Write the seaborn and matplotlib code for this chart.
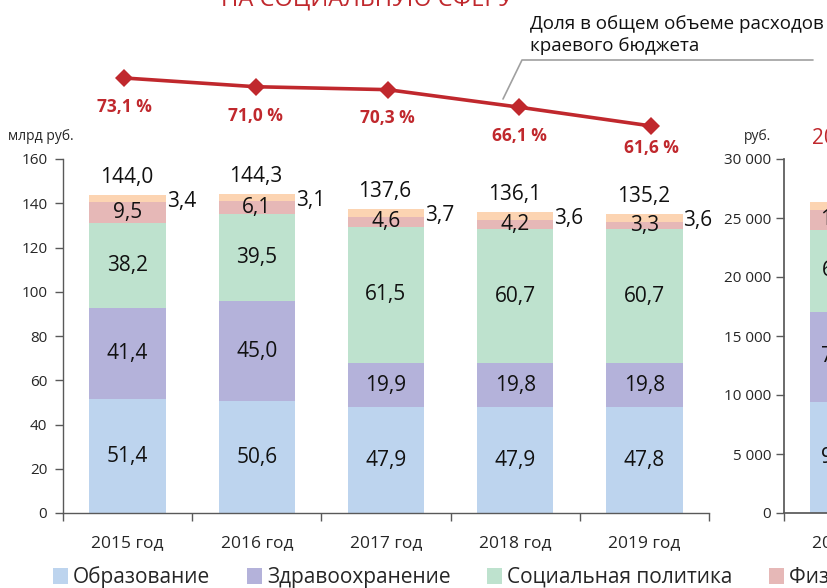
import numpy as np
import pandas as pd
import matplotlib
matplotlib.use("Agg")
import matplotlib.pyplot as plt
import seaborn as sns
from matplotlib.ticker import FixedLocator, FuncFormatter
from matplotlib.lines import Line2D
from matplotlib.patches import Patch

# ---------------- data ----------------
years = ["2015 год", "2016 год", "2017 год", "2018 год", "2019 год"]
edu = [51.4, 50.6, 47.9, 47.9, 47.8]
health = [41.4, 45.0, 19.9, 19.8, 19.8]
social = [38.2, 39.5, 61.5, 60.7, 60.7]
sport = [9.5, 6.1, 4.6, 4.2, 3.3]
culture = [3.4, 3.1, 3.7, 3.6, 3.6]
totals = [144.0, 144.3, 137.6, 136.1, 135.2]
share = [73.1, 71.0, 70.3, 66.1, 61.6]

pc_year = ["2019 год"]
pc_values = [9430, 7600, 6980, 1700, 650]   # per capita, rub.

legend_labels = ["Образование", "Здравоохранение", "Социальная политика",
                 "Физическая культура и спорт", "Культура"]
colors = ["#BDD4EE", "#B4B2DA", "#BEE2CE", "#E6B8B7", "#FCD4B2"]
RED = "#C0282D"
SPINE = "#595959"

sns.set_theme(style="ticks")
plt.rcParams["font.family"] = ["Open Sans", "DejaVu Sans"]

W, H = 828, 588
fig = plt.figure(figsize=(W / 100, H / 100), dpi=100)


def fx(p):
    return p / W


def fy(p):
    return 1 - p / H


def fmt(v):
    return f"{v:.1f}".replace(".", ",")


# ---------------- main stacked chart ----------------
ax = fig.add_axes([fx(63), fy(513), (709 - 63) / W, (513 - 159) / H])
layers = np.array([edu, health, social, sport, culture])
cum = np.cumsum(layers, axis=0)
for i in range(len(layers) - 1, -1, -1):
    sns.barplot(x=years, y=cum[i], order=years, color=colors[i], saturation=1,
                width=0.59, linewidth=0, errorbar=None, ax=ax)

for j in range(len(years)):
    for i in range(4):
        ax.text(j, cum[i][j] - layers[i][j] / 2, fmt(layers[i][j]),
                ha="center", va="center", fontsize=15, color="#111111")
    mid = cum[4][j] - layers[4][j] / 2
    ax.annotate(fmt(layers[4][j]), (j + 0.295, mid), xytext=(1, -3),
                textcoords="offset pixels", ha="left", va="center",
                fontsize=15, color="#111111")
    ax.annotate(fmt(totals[j]), (j, cum[4][j]), xytext=(-1, 17),
                textcoords="offset pixels", ha="center", va="center",
                fontsize=15, color="#111111")

ax.set_xlim(-0.5, len(years) - 0.5)
ax.set_ylim(0, 160)
ax.set_yticks(np.arange(0, 161, 20))
ax.set_xlabel("")
ax.set_ylabel("")
ax.set_xticks(range(len(years)))
ax.set_xticklabels(years)
ax.xaxis.set_minor_locator(FixedLocator(np.arange(-0.5, len(years), 1)))
ax.tick_params(axis="x", which="major", length=0, pad=16, labelsize=12.5)
ax.tick_params(axis="x", which="minor", length=5.8, width=1, color=SPINE)
ax.tick_params(axis="y", which="major", length=5.8, width=1, color=SPINE,
               pad=5.5, labelsize=11)
for s in ["top", "right"]:
    ax.spines[s].set_visible(False)
for s in ["left", "bottom"]:
    ax.spines[s].set_color(SPINE)
    ax.spines[s].set_linewidth(1)
ax.patch.set_alpha(0)

fig.text(fx(8), fy(136), "млрд руб.", fontsize=10, ha="left", va="center")

# ---------------- share line ----------------
axl = fig.add_axes([fx(63), fy(160), (709 - 63) / W, 120 / H])
axl.set_xlim(-0.463, 4.44)
axl.set_ylim(53.44, 82.2)
sns.lineplot(x=np.arange(len(share)), y=share, ax=axl, color=RED, linewidth=2.6,
             marker="D", markersize=9, markeredgewidth=0)
offs = [-29, -29, -28, -29, -22]
for j, v in enumerate(share):
    axl.annotate(f"{v:.1f} %".replace(".", ","), (j, v), xytext=(0, offs[j]),
                 textcoords="offset pixels", ha="center", va="center",
                 fontsize=12.5, fontweight="bold", color=RED)
axl.axis("off")

# callout
fig.add_artist(Line2D([fx(503), fx(522), fx(813)], [fy(99), fy(60), fy(60)],
                      color="#A0A0A0", lw=1.2, transform=fig.transFigure))
fig.text(fx(530), fy(24), "Доля в общем объеме расходов", fontsize=13.5,
         ha="left", va="center", color="#111111")
fig.text(fx(530), fy(46), "краевого бюджета", fontsize=13.5,
         ha="left", va="center", color="#111111")

# partially visible title
fig.text(fx(367), fy(6), "НА СОЦИАЛЬНУЮ СФЕРУ", fontsize=17, color=RED,
         ha="center", va="baseline")

# ---------------- per-capita chart (partly visible) ----------------
axr = fig.add_axes([fx(784), fy(513), 128 / W, (513 - 159) / H])
pc_cum = np.cumsum(pc_values)
for i in range(len(pc_values) - 1, -1, -1):
    sns.barplot(x=pc_year, y=[pc_cum[i]], color=colors[i], saturation=1,
                width=0.59, linewidth=0, errorbar=None, ax=axr)
for i in range(4):
    axr.text(0, pc_cum[i] - pc_values[i] / 2, f"{pc_values[i]:,}".replace(",", " "),
             ha="center", va="center", fontsize=15, color="#111111")
axr.set_xlim(-0.5, 0.5)
axr.set_ylim(0, 30000)
axr.set_yticks(np.arange(0, 30001, 5000))
axr.yaxis.set_major_formatter(FuncFormatter(lambda v, p: f"{int(v):,}".replace(",", " ")))
axr.set_xlabel("")
axr.set_ylabel("")
axr.xaxis.set_minor_locator(FixedLocator([-0.5, 0.5]))
axr.tick_params(axis="x", which="major", length=0, pad=16, labelsize=12.5)
axr.tick_params(axis="x", which="minor", length=5.8, width=1, color=SPINE)
axr.tick_params(axis="y", which="major", length=5.8, width=1, color=SPINE,
                pad=3.5, labelsize=11)
for s in ["top", "right"]:
    axr.spines[s].set_visible(False)
for s in ["left", "bottom"]:
    axr.spines[s].set_color(SPINE)
axr.patch.set_alpha(0)
fig.text(fx(744), fy(136), "руб.", fontsize=10, ha="left", va="center")
fig.text(fx(812), fy(138), "2019 год", fontsize=15, color=RED, ha="left", va="center")

# ---------------- legend ----------------
handles = [Patch(facecolor=c, edgecolor="none") for c in colors]
fig.legend(handles, legend_labels, loc="center left",
           bbox_to_anchor=(fx(53), fy(577)), ncol=5, frameon=False, fontsize=15,
           handlelength=0.72, handleheight=0.8, handletextpad=0.25,
           columnspacing=1.75, borderpad=0, borderaxespad=0)

fig.savefig("out.png", dpi=100)
